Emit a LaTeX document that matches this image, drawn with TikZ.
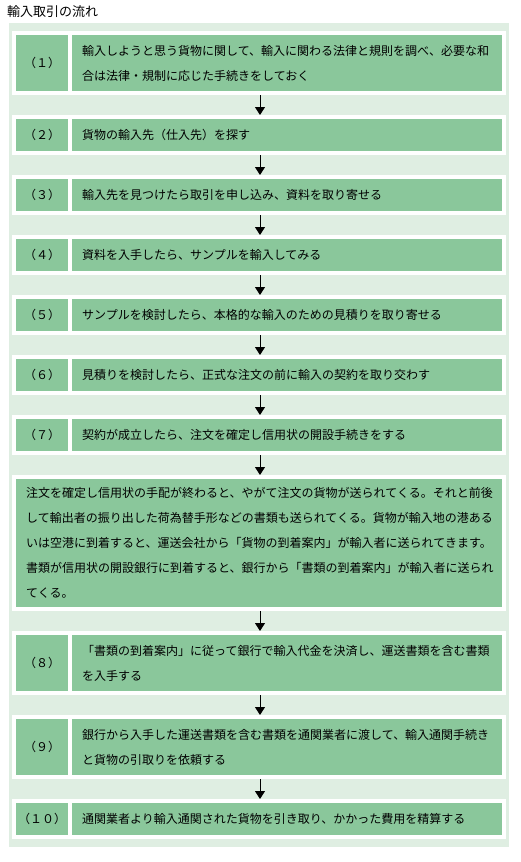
\documentclass[tikz,border=0pt]{standalone}
\usepackage{fontspec}
\newfontfamily\jp{Noto Sans CJK JP}
\usetikzlibrary{arrows.meta}
\definecolor{panelc}{HTML}{DFEEE2}
\definecolor{cellc}{HTML}{8AC79B}
\begin{document}
\begin{tikzpicture}[x=1pt,y=-1pt,
  whitebox/.style={fill=white,inner sep=0pt,anchor=north west,minimum width=494pt},
  cellg/.style={fill=cellc,inner sep=0pt,anchor=north west,font=\jp\fontsize{12pt}{25pt}\selectfont},
  labcell/.style={cellg,minimum width=52pt,align=center},
  txtcell/.style={cellg,text width=410pt,inner xsep=10pt,align=left},
  bigcell/.style={cellg,text width=466pt,inner xsep=10pt,align=left},
  arr/.style={-{Triangle[width=10pt,length=8pt]},line width=1pt,black}]
\useasboundingbox (0,0) rectangle (520,862);
\node[anchor=west,inner sep=0pt,font=\jp\fontsize{13pt}{13pt}\selectfont] (title) at (7,12) {輸入取引の流れ};
\node[fill=panelc,inner sep=0pt,anchor=north west,minimum width=500pt,minimum height=824pt] (panel) at (9,23) {};
\coordinate (ax) at (260,0);
% row 1
\node[whitebox,minimum height=64pt] (w1) at (12,31) {};
\node[labcell,minimum height=56pt] (l1) at (16,35) {（１）};
\node[txtcell,minimum height=56pt] (t1) at (72,35) {輸入しようと思う貨物に関して、輸入に関わる法律と規則を調べ、必要な和\\合は法律・規制に応じた手続きをしておく};
% row 2
\node[whitebox,minimum height=40pt] (w2) at (12,115) {};
\node[labcell,minimum height=32pt] (l2) at (16,119) {（２）};
\node[txtcell,minimum height=32pt] (t2) at (72,119) {貨物の輸入先（仕入先）を探す};
% row 3
\node[whitebox,minimum height=40pt] (w3) at (12,175) {};
\node[labcell,minimum height=32pt] (l3) at (16,179) {（３）};
\node[txtcell,minimum height=32pt] (t3) at (72,179) {輸入先を見つけたら取引を申し込み、資料を取り寄せる};
% row 4
\node[whitebox,minimum height=40pt] (w4) at (12,235) {};
\node[labcell,minimum height=32pt] (l4) at (16,239) {（４）};
\node[txtcell,minimum height=32pt] (t4) at (72,239) {資料を入手したら、サンプルを輸入してみる};
% row 5
\node[whitebox,minimum height=40pt] (w5) at (12,295) {};
\node[labcell,minimum height=32pt] (l5) at (16,299) {（５）};
\node[txtcell,minimum height=32pt] (t5) at (72,299) {サンプルを検討したら、本格的な輸入のための見積りを取り寄せる};
% row 6
\node[whitebox,minimum height=40pt] (w6) at (12,355) {};
\node[labcell,minimum height=32pt] (l6) at (16,359) {（６）};
\node[txtcell,minimum height=32pt] (t6) at (72,359) {見積りを検討したら、正式な注文の前に輸入の契約を取り交わす};
% row 7
\node[whitebox,minimum height=40pt] (w7) at (12,415) {};
\node[labcell,minimum height=32pt] (l7) at (16,419) {（７）};
\node[txtcell,minimum height=32pt] (t7) at (72,419) {契約が成立したら、注文を確定し信用状の開設手続きをする};
% big block
\node[whitebox,minimum height=136pt] (wb) at (12,475) {};
\node[bigcell,minimum height=128pt] (tb) at (16,479) {注文を確定し信用状の手配が終わると、やがて注文の貨物が送られてくる。それと前後\\して輸出者の振り出した荷為替手形などの書類も送られてくる。貨物が輸入地の港ある\\いは空港に到着すると、運送会社から「貨物の到着案内」が輸入者に送られてきます。\\書類が信用状の開設銀行に到着すると、銀行から「書類の到着案内」が輸入者に送られ\\てくる。};
% row 8
\node[whitebox,minimum height=64pt] (w8) at (12,631) {};
\node[labcell,minimum height=56pt] (l8) at (16,635) {（８）};
\node[txtcell,minimum height=56pt] (t8) at (72,635) {「書類の到着案内」に従って銀行で輸入代金を決済し、運送書類を含む書類\\を入手する};
% row 9
\node[whitebox,minimum height=64pt] (w9) at (12,715) {};
\node[labcell,minimum height=56pt] (l9) at (16,719) {（９）};
\node[txtcell,minimum height=56pt] (t9) at (72,719) {銀行から入手した運送書類を含む書類を通関業者に渡して、輸入通関手続き\\と貨物の引取りを依頼する};
% row 10
\node[whitebox,minimum height=40pt] (w10) at (12,799) {};
\node[labcell,minimum height=32pt] (l10) at (16,803) {（１０）};
\node[txtcell,minimum height=32pt] (t10) at (72,803) {通関業者より輸入通関された貨物を引き取り、かかった費用を精算する};
% arrows
\draw[arr] (w1.south -| ax) -- (w2.north -| ax);
\draw[arr] (w2.south -| ax) -- (w3.north -| ax);
\draw[arr] (w3.south -| ax) -- (w4.north -| ax);
\draw[arr] (w4.south -| ax) -- (w5.north -| ax);
\draw[arr] (w5.south -| ax) -- (w6.north -| ax);
\draw[arr] (w6.south -| ax) -- (w7.north -| ax);
\draw[arr] (w7.south -| ax) -- (wb.north -| ax);
\draw[arr] (wb.south -| ax) -- (w8.north -| ax);
\draw[arr] (w8.south -| ax) -- (w9.north -| ax);
\draw[arr] (w9.south -| ax) -- (w10.north -| ax);
\end{tikzpicture}
\end{document}
